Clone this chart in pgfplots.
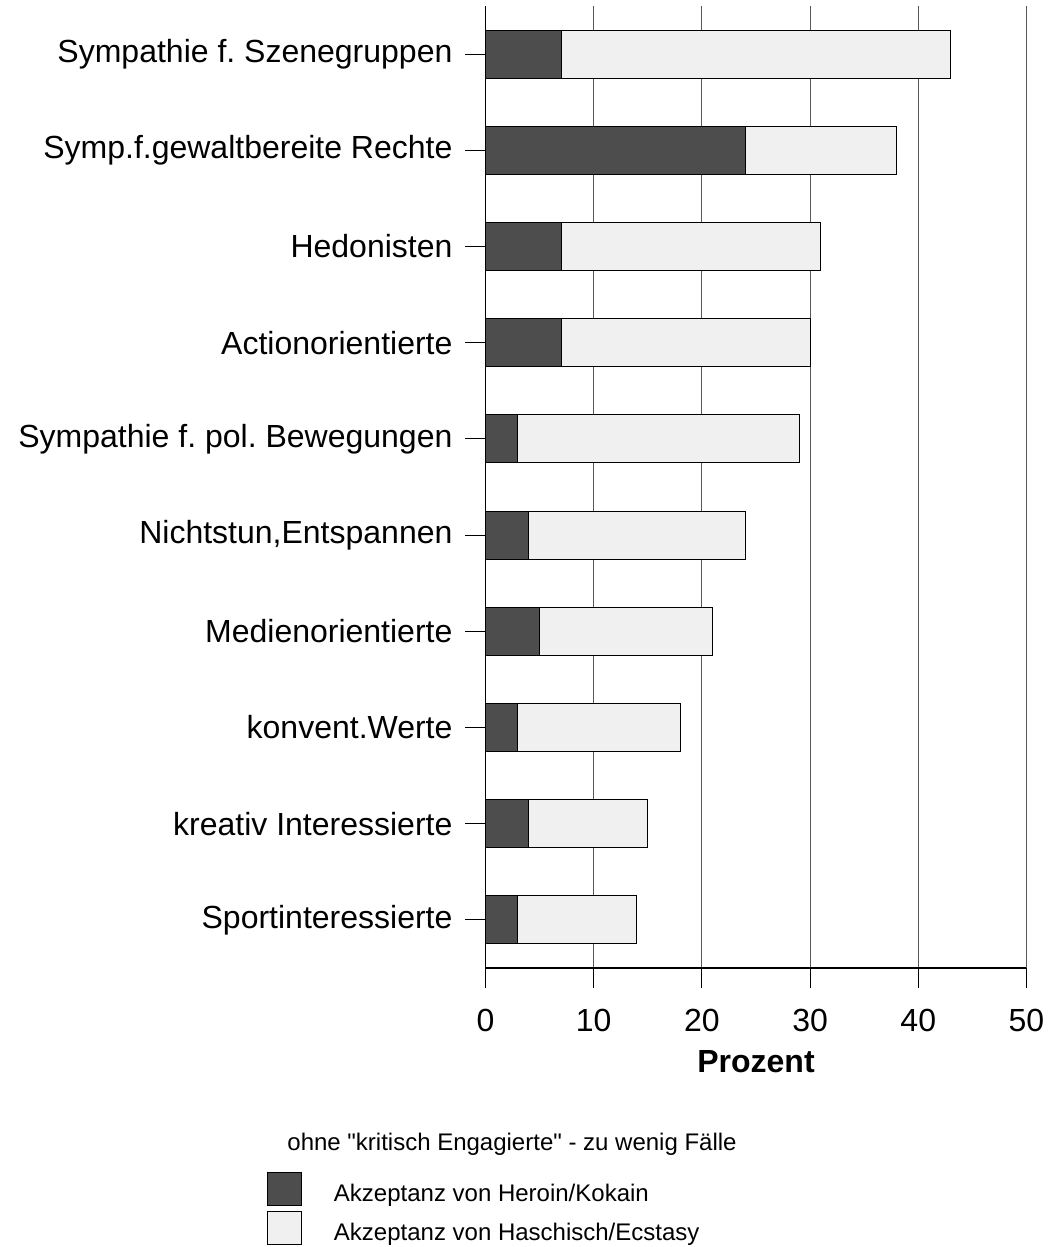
\documentclass[border=0pt]{standalone}
\usepackage{fontspec}
\setmainfont{Liberation Sans}
\usepackage{pgfplots}
\pgfplotsset{compat=1.18}
\definecolor{darkbar}{HTML}{4D4D4D}
\definecolor{lightbar}{HTML}{F0F0F0}
\begin{document}
\frenchspacing
\begin{tikzpicture}
\pgfplotsset{sq legend/.style={legend image code/.code={\draw[##1,draw=black,line width=0.5pt] (0pt,-2pt) rectangle (17pt,14.5pt);}}}
\begin{axis}[
    scale only axis,
    width=270.5pt, height=481pt,
    clip=false,
    xbar stacked, bar width=24pt,
    xmin=0, xmax=50, ymin=-0.5, ymax=9.5,
    axis x line*=bottom, axis y line*=left,
    axis line style={black, line width=0.6pt},
    tick style={black, line width=0.5pt},
    tick align=outside, major tick length=10pt,
    xtick={0,10,...,50}, ytick={0,...,9},
    yticklabels={Sportinteressierte, kreativ Interessierte, konvent.Werte, Medienorientierte, {Nichtstun,Entspannen}, Sympathie f. pol. Bewegungen, Actionorientierte, Hedonisten, Symp.f.gewaltbereite Rechte, Sympathie f. Szenegruppen},
    xmajorgrids, major grid style={black!65, line width=0.5pt},
    extra x ticks={50}, extra x tick labels={},
    extra x tick style={grid style={black, line width=0.6pt}},
    /pgf/number format/assume math mode=true,
    tick label style={font=\fontsize{16}{19}\selectfont},
    yticklabel style={anchor=east, xshift=-3pt},
    xticklabel style={yshift=-7pt},
    xlabel={Prozent},
    xlabel style={at={(axis description cs:0.5,-0.0977)}, anchor=center, font=\bfseries\fontsize{16}{19}\selectfont},
    legend style={at={(axis description cs:-0.4039,-0.2121)}, anchor=north west, draw=none, fill=none,
        inner sep=0pt, outer sep=0pt, row sep=2.5pt, column sep=16pt,
        nodes={inner sep=0pt, font=\fontsize{12}{14}\selectfont},
        cells={anchor=base west}},
]
\addplot[fill=darkbar, draw=black, line width=0.5pt, sq legend] coordinates {
    (3,0) (4,1) (3,2) (5,3) (4,4) (3,5) (7,6) (7,7) (24,8) (7,9)
};
\addplot[fill=lightbar, draw=black, line width=0.5pt, sq legend] coordinates {
    (11,0) (11,1) (15,2) (16,3) (20,4) (26,5) (23,6) (24,7) (14,8) (36,9)
};
\legend{Akzeptanz von Heroin/Kokain, Akzeptanz von Haschisch/Ecstasy}
\node[anchor=base west, inner sep=0pt, font=\fontsize{12}{14}\selectfont] at (axis description cs:-0.3669,-0.1892) {ohne \textquotedbl kritisch Engagierte\textquotedbl{} - zu wenig Fälle};
\end{axis}
\pgfresetboundingbox
\useasboundingbox (-242.75pt,-139.5pt) rectangle (282.25pt,484pt);
\end{tikzpicture}
\end{document}
